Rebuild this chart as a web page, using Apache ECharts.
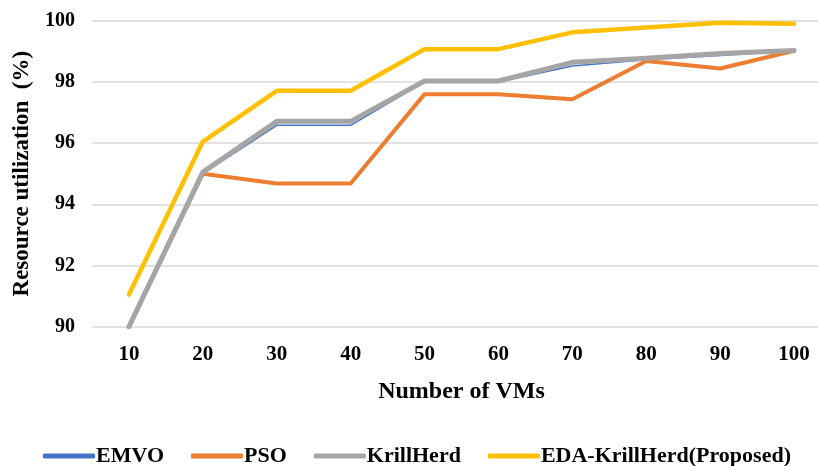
<!DOCTYPE html>
<html>
<head>
<meta charset="utf-8">
<script src="https://cdn.jsdelivr.net/npm/echarts@6/dist/echarts.min.js"></script>
<style>
  html, body { margin: 0; padding: 0; background: #fff; }
  #chart { width: 818px; height: 466px; }
</style>
</head>
<body>
<div id="chart"></div>
<script>
// Number of VMs on the x axis
const categories = ['10', '20', '30', '40', '50', '60', '70', '80', '90', '100'];

// Resource utilization (%) per algorithm
const emvo = [90, 95, 96.58, 96.58, 98.0, 98.0, 98.52, 98.72, 98.86, 99.02];
const pso = [90, 95, 94.68, 94.68, 97.6, 97.6, 97.43, 98.68, 98.44, 99.02];
const krillHerd = [90, 95.05, 96.71, 96.71, 98.03, 98.03, 98.64, 98.77, 98.93, 99.03];
const edaKrillHerd = [91.05, 96.05, 97.71, 97.71, 99.07, 99.07, 99.62, 99.78, 99.93, 99.9];

const seriesNames = ['EMVO', 'PSO', 'KrillHerd', 'EDA-KrillHerd(Proposed)'];
const yTicks = { min: 90, max: 100, step: 2 };

const FONT = '"Liberation Serif", "Times New Roman", serif';
const INK = '#000000';

function line(name, data, color, width) {
  return {
    name: name,
    type: 'line',
    data: data,
    symbol: 'none',
    smooth: false,
    color: color,
    lineStyle: { color: color, width: width, cap: 'round', join: 'round' },
    itemStyle: { color: color }
  };
}

const chart = echarts.init(document.getElementById('chart'), null, { renderer: 'canvas' });

chart.setOption({
  animation: false,
  backgroundColor: '#ffffff',
  // plot area runs slightly past the right edge of the canvas
  grid: { left: 92, top: 20.7, width: 739, height: 306, containLabel: false, outerBoundsMode: 'none' },
  legend: {
    top: 440,
    left: 38,
    icon: 'roundRect',
    itemWidth: 52,
    itemHeight: 5,
    itemGap: 27,
    data: seriesNames,
    textStyle: { fontFamily: FONT, fontWeight: 'bold', fontSize: 22, color: INK, padding: [0, 0, 0, -4] }
  },
  xAxis: {
    type: 'category',
    data: categories,
    boundaryGap: true,
    axisLine: { show: false },
    axisTick: { show: false },
    axisLabel: { fontFamily: FONT, fontWeight: 'bold', fontSize: 21, color: INK, margin: 17 },
    name: 'Number of VMs',
    nameLocation: 'middle',
    nameGap: 53,
    nameTextStyle: { fontFamily: FONT, fontWeight: 'bold', fontSize: 24, color: INK }
  },
  yAxis: {
    type: 'value',
    min: yTicks.min,
    max: yTicks.max,
    interval: yTicks.step,
    axisLine: { show: false },
    axisTick: { show: false },
    splitLine: { lineStyle: { color: '#d9d9d9', width: 1.5 } },
    axisLabel: { fontFamily: FONT, fontWeight: 'bold', fontSize: 20, color: INK, margin: 17 },
    name: 'Resource utilization  (%)',
    nameLocation: 'middle',
    nameGap: 58,
    nameRotate: 90,
    nameTextStyle: { fontFamily: FONT, fontWeight: 'bold', fontSize: 23, color: INK }
  },
  series: [
    line(seriesNames[0], emvo, '#4472C4', 1.5),
    line(seriesNames[1], pso, '#ED7D31', 4),
    line(seriesNames[2], krillHerd, '#A5A5A5', 5),
    line(seriesNames[3], edaKrillHerd, '#FFC000', 4.5)
  ]
});
</script>
</body>
</html>
